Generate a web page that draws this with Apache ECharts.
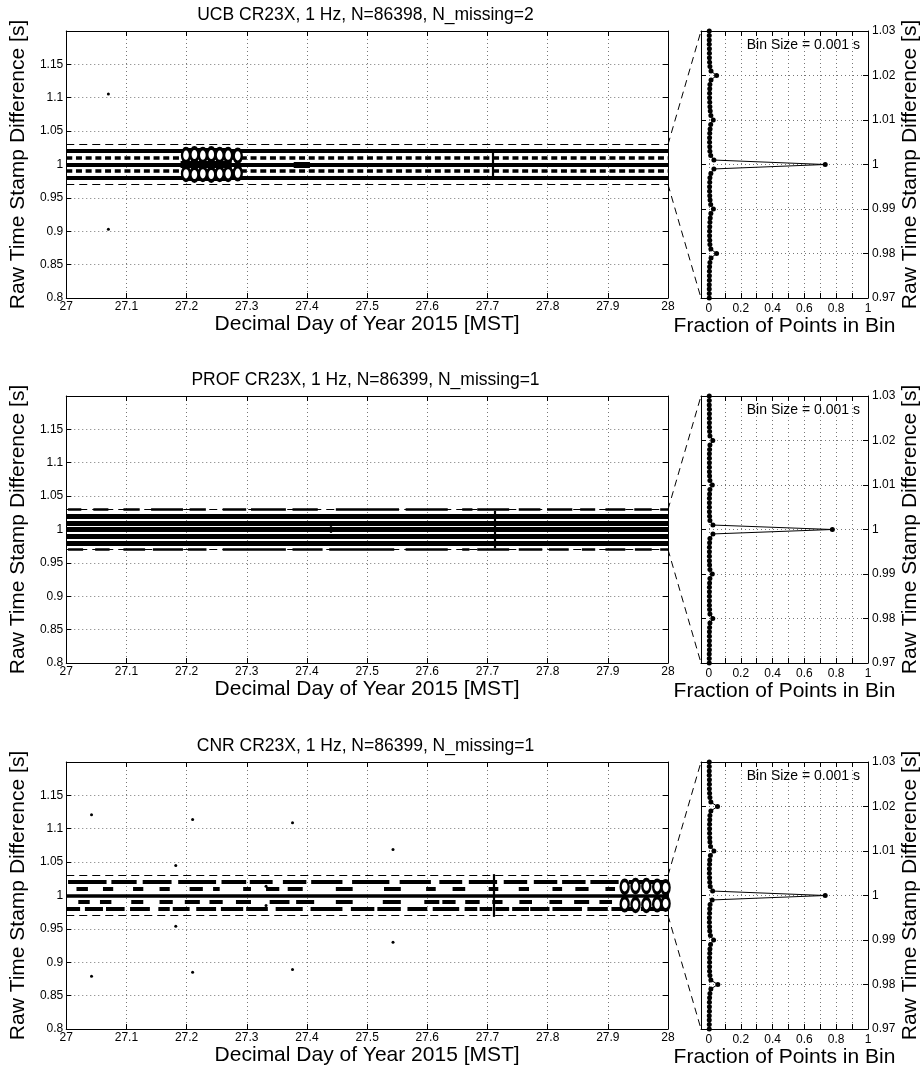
<!DOCTYPE html>
<html>
<head>
<meta charset="utf-8">
<script src="https://cdn.jsdelivr.net/npm/echarts@6/dist/echarts.min.js"></script>
<style>
html, body { margin: 0; padding: 0; background: #fff; }
#chart { width: 924px; height: 1074px; }
</style>
</head>
<body>
<div id="chart"></div>
<script>
// axis ranges and tick labels
var dayMin = 27, dayMax = 28;
var diffMin = 0.8, diffMax = 1.2;
var histMin = 0.97, histMax = 1.03;
var fracMin = -0.05, fracMax = 1;

var dayTicks = [27, 27.1, 27.2, 27.3, 27.4, 27.5, 27.6, 27.7, 27.8, 27.9, 28];
var diffTicks = [0.8, 0.85, 0.9, 0.95, 1, 1.05, 1.1, 1.15];
var histTicks = [0.97, 0.98, 0.99, 1, 1.01, 1.02, 1.03];
var fracTicks = [0, 0.1, 0.2, 0.3, 0.4, 0.5, 0.6, 0.7, 0.8, 0.9, 1];
var fracLabels = [0, 0.2, 0.4, 0.6, 0.8, 1];

var titles = [
    'UCB CR23X, 1 Hz, N=86398, N_missing=2',
    'PROF CR23X, 1 Hz, N=86399, N_missing=1',
    'CNR CR23X, 1 Hz, N=86399, N_missing=1'
];
var binText = 'Bin Size = 0.001 s';
var binStart = 0.970, binSize = 0.001;
var zoomBox = [0.97, 1.03];

// fraction of points per bin, bins 0.970 ... 1.030
var ucbFrac = [0.002, 0.002, 0.002, 0.002, 0.003, 0.003, 0.003, 0.004, 0.006, 0.013,
    0.048, 0.012, 0.006, 0.005, 0.004, 0.004, 0.005, 0.006, 0.008, 0.012,
    0.028, 0.011, 0.007, 0.005, 0.004, 0.004, 0.005, 0.006, 0.012, 0.031,
    0.731, 0.031, 0.011, 0.006, 0.005, 0.004, 0.004, 0.005, 0.007, 0.011,
    0.027, 0.012, 0.008, 0.006, 0.005, 0.004, 0.004, 0.005, 0.006, 0.013,
    0.048, 0.013, 0.006, 0.004, 0.003, 0.003, 0.003, 0.002, 0.002, 0.002, 0.002];
var profFrac = [0.002, 0.002, 0.002, 0.003, 0.003, 0.003, 0.003, 0.003, 0.004, 0.006,
    0.024, 0.006, 0.004, 0.003, 0.003, 0.003, 0.003, 0.003, 0.004, 0.006,
    0.021, 0.006, 0.004, 0.003, 0.003, 0.003, 0.003, 0.004, 0.006, 0.025,
    0.776, 0.025, 0.006, 0.004, 0.003, 0.003, 0.003, 0.003, 0.004, 0.006,
    0.021, 0.006, 0.004, 0.003, 0.003, 0.003, 0.003, 0.003, 0.004, 0.006,
    0.024, 0.006, 0.004, 0.003, 0.003, 0.003, 0.003, 0.003, 0.002, 0.002, 0.002];
var cnrFrac = [0.002, 0.002, 0.002, 0.002, 0.003, 0.003, 0.003, 0.004, 0.006, 0.012,
    0.056, 0.012, 0.006, 0.004, 0.004, 0.004, 0.004, 0.005, 0.006, 0.01,
    0.029, 0.009, 0.005, 0.004, 0.003, 0.003, 0.004, 0.005, 0.007, 0.02,
    0.731, 0.023, 0.008, 0.005, 0.004, 0.003, 0.003, 0.004, 0.005, 0.009,
    0.031, 0.01, 0.006, 0.005, 0.004, 0.004, 0.004, 0.005, 0.006, 0.012,
    0.054, 0.012, 0.006, 0.004, 0.003, 0.003, 0.003, 0.002, 0.002, 0.002, 0.002];

// UCB: continuous bands, dotted bands, loops around 27.2-27.3
var ucbSolid = [1.02, 1.0, 0.98];
var ucbDotted = [1.01, 0.99];
var ucbSegs = [
    {y: 1.0, w: 7, spans: [[27.19, 27.275]]},
    {y: 1.0, w: 6, spans: [[27.378, 27.405]]},
    {y: 1.021, w: 5, spans: [[27.2, 27.27]]},
    {y: 0.979, w: 5, spans: [[27.2, 27.27]]}
];
var ucbLoops = [[27.199, 1.014], [27.213, 1.015], [27.227, 1.014], [27.241, 1.015], [27.255, 1.014],
    [27.269, 1.014], [27.285, 1.013], [27.199, 0.986], [27.213, 0.985], [27.227, 0.986],
    [27.241, 0.985], [27.255, 0.986], [27.269, 0.986], [27.285, 0.987]];
var ucbStrokes = [[27.708, 0.978, 1.022]];
var ucbOutliers = [[27.07, 1.1055], [27.07, 0.903]];

// PROF: five solid bands, broken bands on the zoom limits
var profSolid = [1.02, 1.01, 1.0, 0.99, 0.98];
var profSegs = [
    {y: 1.03, w: 2.5, spans: [[27.003, 27.025], [27.045, 27.07], [27.095, 27.122], [27.141, 27.194],
        [27.205, 27.232], [27.26, 27.299], [27.307, 27.365], [27.376, 27.418], [27.448, 27.553],
        [27.564, 27.634], [27.658, 27.675], [27.683, 27.736], [27.752, 27.788], [27.799, 27.841],
        [27.854, 27.879], [27.896, 27.929], [27.944, 27.973], [27.987, 28]]},
    {y: 0.97, w: 2.5, spans: [[27.003, 27.028], [27.048, 27.072], [27.095, 27.131], [27.144, 27.194],
        [27.202, 27.233], [27.26, 27.365], [27.376, 27.426], [27.437, 27.545], [27.564, 27.634],
        [27.658, 27.67], [27.683, 27.736], [27.752, 27.791], [27.802, 27.835], [27.857, 27.879],
        [27.896, 27.929], [27.945, 27.973], [27.987, 28]]}
];
var profLoops = [];
var profStrokes = [[27.712, 0.972, 1.028], [27.44, 0.995, 1.005]];
var profOutliers = [];

// CNR: solid centre band, dashed bands, loops near the end of the day
var cnrSolid = [1.0];
var cnrSegs = [
    {y: 1.02, w: 4, spans: [[27.003, 27.067], [27.075, 27.117], [27.127, 27.175], [27.186, 27.249],
        [27.258, 27.299], [27.305, 27.343], [27.36, 27.399], [27.407, 27.459], [27.475, 27.537],
        [27.554, 27.606], [27.62, 27.658], [27.669, 27.716], [27.727, 27.766], [27.777, 27.816],
        [27.824, 27.863], [27.871, 27.918], [27.935, 28]]},
    {y: 1.01, w: 4, spans: [[27.017, 27.036], [27.061, 27.078], [27.111, 27.128], [27.155, 27.172],
        [27.205, 27.227], [27.244, 27.255], [27.294, 27.307], [27.332, 27.354], [27.368, 27.393],
        [27.448, 27.476], [27.528, 27.556], [27.598, 27.614], [27.642, 27.663], [27.702, 27.718],
        [27.752, 27.769], [27.808, 27.824], [27.846, 27.868], [27.896, 27.912]]},
    {y: 0.99, w: 4, spans: [[27.02, 27.039], [27.056, 27.075], [27.108, 27.128], [27.155, 27.177],
        [27.197, 27.222], [27.238, 27.26], [27.282, 27.307], [27.338, 27.371], [27.382, 27.412],
        [27.448, 27.476], [27.526, 27.556], [27.595, 27.62], [27.625, 27.647], [27.663, 27.687],
        [27.708, 27.725], [27.753, 27.774], [27.803, 27.824], [27.844, 27.869], [27.886, 27.907]]},
    {y: 0.98, w: 4, spans: [[27.0, 27.023], [27.031, 27.061], [27.066, 27.097], [27.106, 27.139],
        [27.153, 27.172], [27.177, 27.205], [27.216, 27.249], [27.257, 27.294], [27.299, 27.335],
        [27.348, 27.393], [27.406, 27.459], [27.473, 27.512], [27.517, 27.556], [27.567, 27.6],
        [27.609, 27.653], [27.662, 27.683], [27.687, 27.708], [27.713, 27.736], [27.741, 27.769],
        [27.771, 27.803], [27.808, 27.857], [27.866, 27.9], [27.906, 27.95], [27.955, 28]]}
];
var cnrLoops = [[27.928, 1.013], [27.946, 1.014], [27.964, 1.014], [27.982, 1.013], [27.996, 1.012],
    [27.928, 0.987], [27.946, 0.986], [27.964, 0.986], [27.982, 0.987], [27.996, 0.988]];
var cnrStrokes = [[27.71, 0.968, 1.032]];
var cnrOutliers = [[27.042, 1.121], [27.042, 0.879], [27.182, 1.045], [27.182, 0.954],
    [27.21, 1.114], [27.21, 0.885], [27.376, 1.109], [27.376, 0.889], [27.543, 1.069],
    [27.543, 0.93], [27.332, 1.014], [27.332, 0.985]];

var rows = [
    {frac: ucbFrac, solid: ucbSolid, solidW: 4, dotted: ucbDotted, segs: ucbSegs, loops: ucbLoops, strokes: ucbStrokes, outliers: ucbOutliers},
    {frac: profFrac, solid: profSolid, solidW: 5, dotted: [], segs: profSegs, loops: profLoops, strokes: profStrokes, outliers: profOutliers},
    {frac: cnrFrac, solid: cnrSolid, solidW: 3.5, dotted: [], segs: cnrSegs, loops: cnrLoops, strokes: cnrStrokes, outliers: cnrOutliers}
];

var bins = ucbFrac.map(function (f, i) { return +(binStart + i * binSize).toFixed(3); });

var FONT = '"Liberation Sans", Arial, Helvetica, sans-serif';
var rowTops = [31, 396, 762];
var rowH = 267;
var mainLeft = 63, mainW = 605, histLeft = 701, histW = 167;

function fmt(v) { return String(+(+v).toFixed(3)); }

function axis(o) {
    return {
        type: 'value',
        gridIndex: o.grid,
        position: o.pos,
        min: o.min,
        max: o.max,
        axisLine: {show: true, onZero: false, lineStyle: {color: '#000', width: 1}},
        axisTick: {show: true, inside: true, length: 5, customValues: o.ticks, lineStyle: {color: '#000'}},
        axisLabel: {
            show: !!o.labels, customValues: o.labels || o.ticks, margin: o.margin || 4,
            fontSize: 12, color: '#000', fontFamily: FONT, formatter: fmt
        },
        splitLine: {show: !!o.split, lineStyle: {color: '#777', type: [1, 3], width: 1}},
        name: o.name || '',
        nameLocation: 'middle',
        nameGap: o.nameGap || 0,
        nameTextStyle: {fontSize: 21, color: '#000', fontFamily: FONT}
    };
}

var grid = [], xAxis = [], yAxis = [], series = [], title = [];

rows.forEach(function (r, i) {
    var top = rowTops[i];
    grid.push({left: mainLeft, top: top, width: mainW, height: rowH});
    grid.push({left: histLeft, top: top, width: histW, height: rowH});
    var gm = 2 * i, gh = 2 * i + 1;

    xAxis.push(axis({grid: gm, pos: 'bottom', min: dayMin, max: dayMax, ticks: dayTicks, labels: dayTicks, split: true, margin: 3,
        name: 'Decimal Day of Year 2015 [MST]', nameGap: 16}));
    xAxis.push(axis({grid: gm, pos: 'top', min: dayMin, max: dayMax, ticks: dayTicks}));
    xAxis.push(axis({grid: gh, pos: 'bottom', min: fracMin, max: fracMax, ticks: fracTicks, labels: fracLabels, split: true, margin: 5,
        name: 'Fraction of Points in Bin', nameGap: 8}));
    xAxis.push(axis({grid: gh, pos: 'top', min: fracMin, max: fracMax, ticks: fracTicks}));

    yAxis.push(axis({grid: gm, pos: 'left', min: diffMin, max: diffMax, ticks: diffTicks, labels: diffTicks, split: true, margin: 3,
        name: 'Raw Time Stamp Difference [s]', nameGap: 30}));
    yAxis.push(axis({grid: gm, pos: 'right', min: diffMin, max: diffMax, ticks: diffTicks}));
    yAxis.push(axis({grid: gh, pos: 'right', min: histMin, max: histMax, ticks: histTicks, labels: histTicks, split: true, margin: 4,
        name: 'Raw Time Stamp Difference [s]', nameGap: 31}));
    yAxis.push(axis({grid: gh, pos: 'left', min: histMin, max: histMax, ticks: histTicks}));

    var xm = 4 * i, ym = 4 * i, xh = 4 * i + 2, yh = 4 * i + 2;

    function lines(data, w, type) {
        series.push({
            type: 'lines', coordinateSystem: 'cartesian2d', xAxisIndex: xm, yAxisIndex: ym,
            polyline: false, silent: true, z: 3,
            lineStyle: {color: '#000', width: w, type: type || 'solid', opacity: 1},
            data: data
        });
    }

    // zoom box limits
    lines(zoomBox.map(function (y) { return {coords: [[dayMin, y], [dayMax, y]]}; }), 1, [8, 5]);
    // continuous bands
    lines(r.solid.map(function (y) { return {coords: [[dayMin, y], [dayMax, y]]}; }), r.solidW);
    if (r.dotted.length) {
        lines(r.dotted.map(function (y) { return {coords: [[dayMin, y], [dayMax, y]]}; }), 3.5, [6, 3.7]);
    }
    r.segs.forEach(function (s) {
        lines(s.spans.map(function (p) { return {coords: [[p[0], s.y], [p[1], s.y]]}; }), s.w);
    });
    lines(r.strokes.map(function (p) { return {coords: [[p[0], p[1]], [p[0], p[2]]]}; }), 2.2);

    // loop-shaped clusters
    if (r.loops.length) {
        series.push({
            type: 'scatter', xAxisIndex: xm, yAxisIndex: ym, symbol: 'circle', symbolSize: [8, 13],
            itemStyle: {color: '#fff', borderColor: '#000', borderWidth: 3, opacity: 1}, silent: true, z: 5,
            data: r.loops
        });
    }

    series.push({
        type: 'scatter', xAxisIndex: xm, yAxisIndex: ym, symbol: 'circle', symbolSize: 3,
        itemStyle: {color: '#000', opacity: 1}, silent: true, z: 4, data: r.outliers
    });

    series.push({
        type: 'line', xAxisIndex: xh, yAxisIndex: yh, symbol: 'circle', symbolSize: 5,
        showSymbol: true, showAllSymbol: true, silent: true, z: 4,
        itemStyle: {color: '#000', opacity: 1}, lineStyle: {color: '#000', width: 1},
        data: r.frac.map(function (f, k) { return [f, bins[k]]; })
    });

    title.push({
        text: titles[i], left: mainLeft + mainW / 2, top: top - 25, textAlign: 'center', padding: 0,
        textStyle: {fontSize: 17.5, fontWeight: 'normal', color: '#000', fontFamily: FONT}
    });
    title.push({
        text: binText, left: histLeft + histW - 8, top: top + 7, textAlign: 'right', padding: 0,
        textStyle: {fontSize: 14, fontWeight: 'normal', color: '#000', fontFamily: FONT}
    });
});

var chart = echarts.init(document.getElementById('chart'), null, {renderer: 'canvas'});
chart.setOption({
    animation: false,
    backgroundColor: '#fff',
    title: title,
    grid: grid,
    xAxis: xAxis,
    yAxis: yAxis,
    series: series
});

// dashed lines from the zoom box to the histogram panel
var links = [];
rows.forEach(function (r, i) {
    zoomBox.forEach(function (y) {
        var a = chart.convertToPixel({xAxisIndex: 4 * i, yAxisIndex: 4 * i}, [dayMax, y]);
        var b = chart.convertToPixel({xAxisIndex: 4 * i + 2, yAxisIndex: 4 * i + 2}, [fracMin, y]);
        links.push({
            type: 'line', silent: true,
            shape: {x1: a[0], y1: a[1], x2: b[0], y2: b[1]},
            style: {stroke: '#000', lineWidth: 1, lineDash: [7, 5]}
        });
    });
});
chart.setOption({graphic: links});
</script>
</body>
</html>
